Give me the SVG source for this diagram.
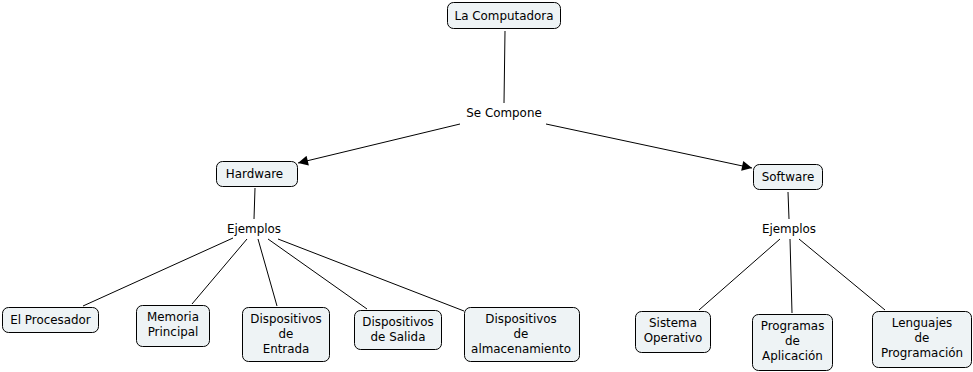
<svg xmlns="http://www.w3.org/2000/svg" width="973" height="372" viewBox="0 0 973 372">
<style>
.n{fill:#eef3f5;stroke:#000;stroke-width:1}
text{font-family:"DejaVu Sans",Verdana,sans-serif;font-size:11.9px;fill:#000;text-anchor:middle}
.c line{stroke:#000;stroke-width:1}
</style>
<defs>
<marker id="a" viewBox="0 0 10 10" refX="10" refY="5" markerWidth="12" markerHeight="10" markerUnits="userSpaceOnUse" orient="auto"><path d="M0,0L10,5L0,10z" fill="#000"/></marker>
</defs>
<rect width="973" height="372" fill="#fff"/>
<g class="c" id="connectors">
<line x1="505" y1="31" x2="504" y2="103"/>
<line x1="460" y1="124" x2="298" y2="163" marker-end="url(#a)"/>
<line x1="546" y1="124" x2="752" y2="168" marker-end="url(#a)"/>
<line x1="255" y1="188" x2="254" y2="219"/>
<line x1="233" y1="238" x2="83" y2="306"/>
<line x1="247" y1="239" x2="192" y2="304"/>
<line x1="258" y1="239" x2="277" y2="306"/>
<line x1="268" y1="239" x2="367" y2="309"/>
<line x1="278" y1="239" x2="464" y2="311"/>
<line x1="788" y1="192" x2="789" y2="219"/>
<line x1="780" y1="239" x2="699" y2="310"/>
<line x1="790" y1="239" x2="792" y2="313"/>
<line x1="799" y1="239" x2="885" y2="310"/>
</g>
<g id="la-computadora"><rect class="n" x="447.5" y="2.5" width="113" height="26" rx="6"/><text x="504" y="19.5">La Computadora</text></g>
<g id="se-compone"><text x="504" y="117">Se Compone</text></g>
<g id="hardware"><rect class="n" x="216.5" y="161.5" width="81" height="25" rx="6"/><text x="254.5" y="178">Hardware</text></g>
<g id="software"><rect class="n" x="753.5" y="164.5" width="69" height="25" rx="6"/><text x="788" y="181">Software</text></g>
<g id="ejemplos-hw"><text x="254" y="233">Ejemplos</text></g>
<g id="ejemplos-sw"><text x="789" y="233">Ejemplos</text></g>
<g id="el-procesador"><rect class="n" x="2.5" y="307.5" width="96" height="25" rx="6"/><text x="50.5" y="324">El Procesador</text></g>
<g id="memoria-principal"><rect class="n" x="136.5" y="305.5" width="73" height="41" rx="6"/><text x="173" y="321">Memoria</text><text x="173" y="336">Principal</text></g>
<g id="disp-entrada"><rect class="n" x="242.5" y="307.5" width="87" height="54" rx="6"/><text x="286" y="323">Dispositivos</text><text x="286" y="338">de</text><text x="286" y="353">Entrada</text></g>
<g id="disp-salida"><rect class="n" x="354.5" y="310.5" width="87" height="39" rx="6"/><text x="398" y="326">Dispositivos</text><text x="398" y="341">de Salida</text></g>
<g id="disp-almacenamiento"><rect class="n" x="464.5" y="307.5" width="115" height="54" rx="6"/><text x="521" y="323">Dispositivos</text><text x="521" y="338">de</text><text x="521" y="353">almacenamiento</text></g>
<g id="sistema-operativo"><rect class="n" x="635.5" y="311.5" width="75" height="41" rx="6"/><text x="673" y="327">Sistema</text><text x="673" y="342">Operativo</text></g>
<g id="programas-aplicacion"><rect class="n" x="752.5" y="314.5" width="80" height="56" rx="6"/><text x="792.5" y="330">Programas</text><text x="792.5" y="345">de</text><text x="792.5" y="360">Aplicación</text></g>
<g id="lenguajes-programacion"><rect class="n" x="872.5" y="311.5" width="99" height="56" rx="6"/><text x="922" y="327">Lenguajes</text><text x="922" y="342">de</text><text x="922" y="357">Programación</text></g>
</svg>
